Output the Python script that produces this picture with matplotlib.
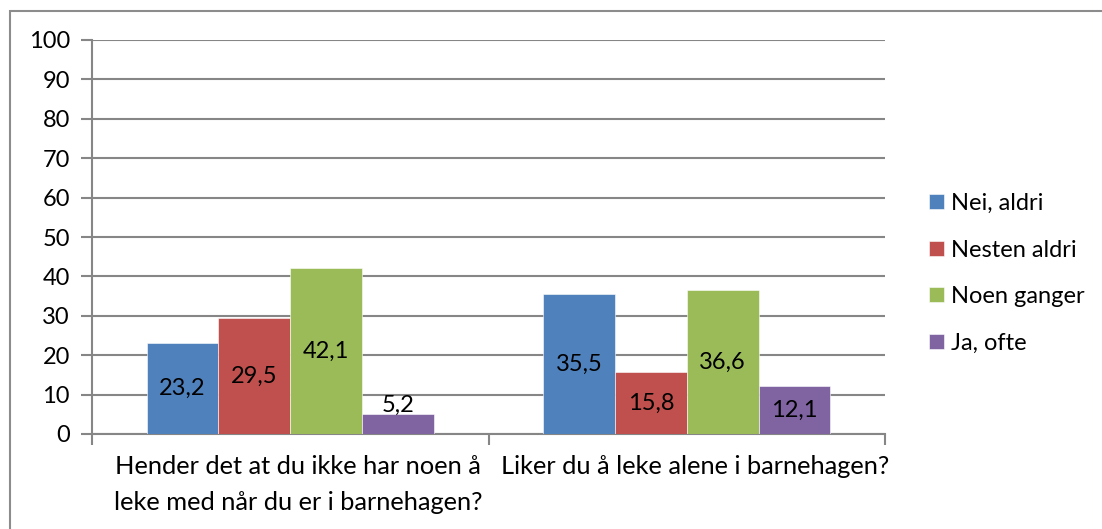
import numpy as np
import matplotlib.pyplot as plt
from matplotlib.patches import Rectangle

plt.rcParams['font.family'] = ['Lato', 'DejaVu Sans']

categories = ["Hender det at du ikke har noen å\nleke med når du er i barnehagen?",
              "Liker du å leke alene i barnehagen?"]
series = ["Nei, aldri", "Nesten aldri", "Noen ganger", "Ja, ofte"]
values = [[23.2, 35.5],
          [29.5, 15.8],
          [42.1, 36.6],
          [5.2, 12.1]]
yticks = list(range(0, 101, 10))

colors = ["#4F81BD", "#C0504D", "#9BBB59", "#8064A2"]
grid_c = "#868686"
fs = 17

fig = plt.figure(figsize=(11.02, 5.29), dpi=100)
# outer chart border (only top/left visible in crop)
fig.patches.append(Rectangle((10/1102, -0.1), 1.2, 1 - 10.5/529 + 0.1,
                             transform=fig.transFigure, fill=False,
                             edgecolor="#8c8c8c", lw=1.5))
ax = fig.add_axes([92/1102, 1 - 434/529, (885-92)/1102, (434-40)/529])

x = np.arange(len(categories))
w = 0.181
for i, (name, vals) in enumerate(zip(series, values)):
    pos = x + (i - 1.5) * w
    ax.bar(pos, vals, w, color=colors[i], label=name, zorder=3,
           edgecolor="white", linewidth=0.4)
    for xp, v in zip(pos, vals):
        lab = f"{v:.1f}".replace(".", ",")
        if v < 8:
            # too short to hold its label: sit it on top of the bar
            ax.text(xp, v - 0.6, lab, ha="center", va="bottom", fontsize=fs, zorder=4)
        else:
            ax.text(xp, v / 2, lab, ha="center", va="center", fontsize=fs, zorder=4)

ax.set_xlim(-0.5, len(categories) - 0.5)
ax.set_ylim(0, 100)
ax.set_yticks(yticks)
ax.set_yticklabels([str(t) for t in yticks], fontsize=fs)
ax.yaxis.grid(True, color=grid_c, lw=1.5, zorder=0)
ax.tick_params(axis="y", length=8, width=1.5, color=grid_c, pad=8, direction="out")

ax.set_xticks([-0.5, 0.5, 1.5])
ax.set_xticklabels([])
ax.tick_params(axis="x", length=8, width=1.5, color=grid_c, direction="out")
for xc, lab in zip(x, categories):
    ax.text(xc + 0.02, -5.3, lab, ha="center", va="top", fontsize=18.3,
            linespacing=1.68, transform=ax.transData)

for s in ["top", "right"]:
    ax.spines[s].set_visible(False)
for s in ["left", "bottom"]:
    ax.spines[s].set_color(grid_c)
    ax.spines[s].set_linewidth(1.5)

ax.legend(loc="upper left", bbox_to_anchor=(1.044, 0.635), frameon=False,
          fontsize=fs, handlelength=0.6, handleheight=0.6,
          handletextpad=0.3, labelspacing=1.08, borderaxespad=0)

fig.savefig("out.png", dpi=100)
